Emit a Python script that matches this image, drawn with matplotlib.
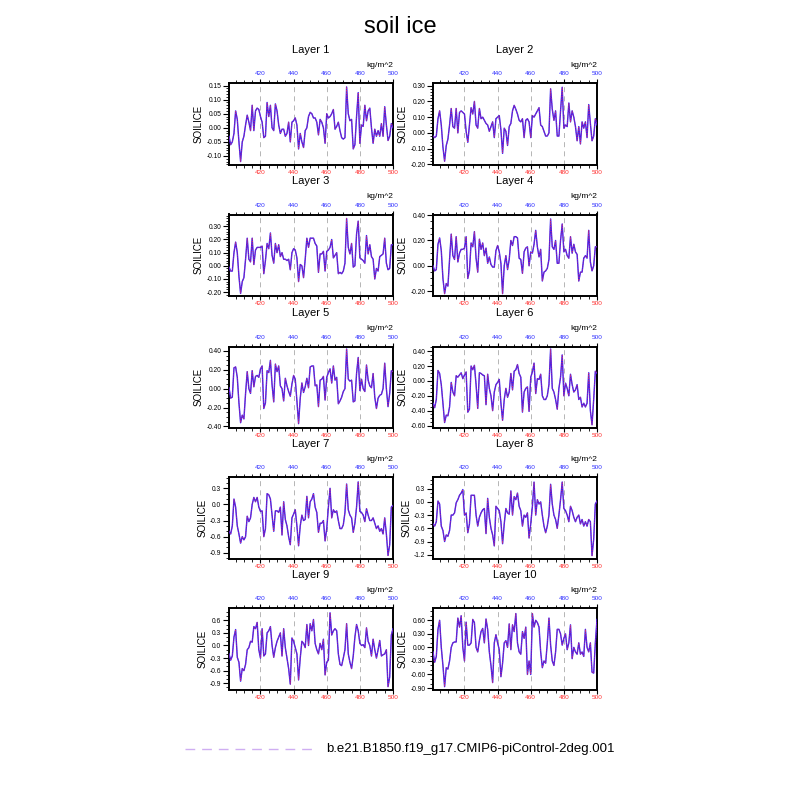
import matplotlib
matplotlib.use("Agg")
import matplotlib.pyplot as plt
import numpy as np
from matplotlib.ticker import MultipleLocator, FixedLocator, FormatStrFormatter

plt.rcParams['font.family'] = ['Liberation Sans', 'DejaVu Sans']

years = np.arange(401, 501)

layer1 = [-0.03, -0.06, -0.05, -0.02, 0.06, 0.03, -0.05, -0.12, -0.05, -0.03,
          0.01, 0.045, 0.02, -0.01, 0.08, -0.01, 0.06, 0.07, 0.065, 0.04,
          0.02, -0.035, -0.03, 0.09, 0.04, 0.08, 0.00, -0.01, 0.085, 0.06,
          0.01, -0.02, -0.005, -0.005, -0.03, -0.02, 0.02, -0.05, 0.02, 0.025,
          0.035, 0.01, -0.075, -0.02, -0.05, -0.07, -0.01, 0.00, 0.04, 0.055,
          0.05, 0.035, 0.035, 0.02, -0.025, 0.03, 0.02, 0.00, -0.055, 0.05,
          0.035, 0.04, 0.05, 0.065, -0.005, 0.005, 0.02, -0.01, -0.035, -0.04,
          -0.035, 0.145, 0.05, 0.025, 0.03, -0.075, -0.06, 0.04, 0.125, -0.055,
          0.01, 0.005, 0.08, 0.025, 0.06, 0.07, 0.00, -0.055, -0.005, -0.03,
          -0.01, -0.03, 0.015, -0.03, 0.075, 0.01, -0.045, -0.03, 0.015, 0.00]

layer2 = [-0.02, -0.03, -0.02, 0.09, 0.14, 0.05, -0.09, -0.18, -0.08, -0.04,
          0.05, 0.155, 0.04, 0.03, 0.155, 0.00, 0.13, 0.14, 0.13, 0.12,
          0.01, -0.06, 0.05, 0.16, 0.12, 0.20, 0.05, 0.03, 0.155, 0.09,
          0.10, 0.08, 0.06, 0.05, 0.01, 0.04, 0.07, -0.03, 0.09, 0.10,
          0.11, 0.02, -0.13, 0.03, 0.01, -0.08, 0.04, 0.06, 0.14, 0.175,
          0.15, 0.12, 0.08, 0.07, 0.09, -0.03, 0.08, 0.09, 0.07, -0.03,
          0.11, 0.10, 0.12, 0.14, 0.16, 0.05, 0.04, 0.01, -0.02, -0.02,
          0.00, 0.28, 0.15, 0.08, 0.14, -0.02, -0.02, 0.14, 0.29, 0.03,
          0.05, 0.04, 0.19, 0.07, 0.14, 0.10, 0.04, -0.05, 0.04, -0.07,
          0.07, 0.03, 0.07, -0.03, 0.18, 0.06, -0.05, -0.02, 0.09, 0.05]

layer3 = [-0.01, -0.04, -0.04, 0.10, 0.18, 0.10, -0.08, -0.21, -0.12, -0.09,
          0.05, 0.21, 0.05, 0.03, 0.21, 0.01, 0.12, 0.14, 0.14, 0.14,
          0.15, -0.06, 0.04, 0.17, 0.13, 0.25, 0.08, 0.02, 0.17, 0.10,
          0.16, 0.07, 0.10, 0.05, 0.05, 0.04, 0.05, -0.03, 0.10, 0.13,
          0.12, 0.06, -0.12, 0.01, 0.00, -0.09, 0.05, 0.21, 0.14, 0.21,
          0.21, 0.21, 0.17, 0.15, -0.05, 0.09, 0.09, 0.11, -0.04, 0.11,
          0.12, 0.14, 0.20, 0.06, 0.08, 0.10, -0.06, -0.05, -0.06, -0.04,
          0.02, 0.36, 0.14, 0.09, 0.17, -0.01, 0.00, 0.24, 0.34, 0.06,
          0.05, 0.04, 0.02, 0.23, 0.09, 0.16, 0.07, 0.05, -0.10, -0.02,
          -0.04, 0.07, 0.08, 0.09, 0.21, 0.02, -0.03, -0.02, 0.16, 0.16]

layer4 = [0.00, -0.04, -0.03, 0.17, 0.22, 0.12, -0.10, -0.22, -0.14, -0.16,
          0.05, 0.25, 0.08, 0.05, 0.23, 0.03, 0.10, 0.13, 0.13, 0.14,
          0.23, -0.10, -0.04, 0.18, 0.15, 0.27, 0.06, -0.05, 0.21, 0.13,
          0.18, 0.08, 0.14, 0.02, 0.07, 0.01, -0.01, -0.01, 0.12, 0.16,
          0.11, 0.02, -0.22, 0.00, 0.08, -0.03, 0.05, 0.20, 0.16, 0.23,
          0.23, 0.22, 0.06, 0.05, -0.06, 0.11, 0.14, 0.15, 0.00, 0.11,
          0.10, 0.17, 0.28, 0.15, 0.07, 0.13, -0.12, -0.05, -0.04, -0.02,
          0.05, 0.37, 0.15, 0.13, 0.20, 0.02, 0.02, 0.20, 0.33, 0.11,
          0.13, 0.08, 0.06, 0.23, 0.10, 0.17, 0.11, 0.09, -0.12, -0.05,
          -0.05, 0.06, 0.08, 0.06, 0.28, 0.03, -0.04, 0.00, 0.15, 0.15]

layer5 = [0.01, -0.10, -0.09, 0.22, 0.23, 0.12, -0.15, -0.36, -0.28, -0.32,
          -0.05, 0.18, 0.00, -0.05, 0.19, 0.02, 0.13, 0.14, 0.12, 0.21,
          0.24, -0.21, -0.15, 0.19, 0.17, 0.30, 0.04, -0.14, 0.26, 0.18,
          0.24, 0.03, 0.00, -0.13, 0.11, 0.03, -0.03, -0.08, 0.05, 0.14,
          0.10, -0.13, -0.37, -0.10, 0.06, -0.04, 0.02, 0.11, 0.01, 0.23,
          0.24, 0.24, 0.03, 0.04, -0.19, 0.09, 0.10, 0.13, -0.12, 0.12,
          0.17, 0.21, 0.06, 0.24, 0.09, 0.12, -0.16, -0.13, -0.09, -0.03,
          0.00, 0.42, 0.10, 0.08, 0.09, -0.14, -0.13, 0.16, 0.33, -0.02,
          0.10, 0.00, -0.03, 0.25, 0.09, 0.03, 0.01, 0.16, -0.09, -0.21,
          -0.10, -0.07, -0.06, 0.00, 0.27, 0.00, -0.19, -0.05, 0.19, 0.18]

layer6 = [-0.30, -0.36, -0.25, 0.14, 0.10, -0.05, -0.30, -0.56, -0.46, -0.47,
          -0.35, -0.02, -0.15, -0.20, 0.07, 0.05, 0.08, 0.11, 0.03, 0.08,
          0.12, -0.42, -0.38, 0.20, 0.15, 0.21, -0.05, -0.37, 0.11, 0.10,
          0.08, 0.07, -0.32, 0.09, -0.10, -0.20, -0.40, -0.15, -0.05, -0.02,
          0.02, -0.30, -0.53, -0.25, -0.10, -0.22, -0.15, 0.10, -0.12, 0.13,
          0.15, 0.22, 0.10, 0.05, -0.42, -0.15, -0.10, -0.08, -0.41, 0.05,
          0.12, 0.24, -0.17, 0.03, 0.02, 0.09, -0.20, -0.25, -0.25, -0.20,
          -0.05, 0.43, -0.10, -0.15, -0.25, -0.38, -0.10, 0.05, 0.35, -0.20,
          -0.03, -0.10, -0.20, 0.09, -0.05, -0.15, -0.12, -0.05, -0.25, -0.22,
          -0.35, -0.30, -0.35, -0.30, 0.11, -0.40, -0.59, -0.25, 0.13, 0.10]

layer7 = [-0.50, -0.55, -0.40, 0.10, -0.05, -0.40, -0.55, -0.72, -0.60, -0.66,
          -0.60, -0.22, -0.32, -0.25, 0.00, 0.13, 0.05, 0.13, -0.05, -0.13,
          -0.12, -0.60, -0.45, 0.20, 0.18, 0.10, -0.20, -0.50, -0.12, -0.12,
          -0.15, -0.05, -0.57, 0.05, -0.28, -0.40, -0.60, -0.75, -0.25, -0.18,
          -0.10, -0.40, -0.77, -0.40, -0.20, -0.30, -0.28, 0.15, -0.25, 0.05,
          0.10, 0.20, -0.05, -0.15, -0.52, -0.35, -0.35, -0.30, -0.68, -0.45,
          -0.05, 0.30, -0.25, -0.10, -0.15, -0.12, -0.30, -0.45, -0.45, -0.38,
          -0.15, 0.38, -0.10, -0.20, -0.25, -0.52, -0.35, -0.05, 0.42, -0.13,
          -0.15, -0.20, -0.32, -0.08, -0.20, -0.30, -0.30, -0.25, -0.35, -0.45,
          -0.40, -0.50, -0.45, -0.55, -0.25, -0.55, -0.95, -0.75, -0.05, -0.02]

layer8 = [-0.50, -0.55, -0.45, 0.02, -0.05, -0.55, -0.65, -0.90, -0.75, -0.78,
          -0.65, -0.30, -0.30, -0.25, -0.02, 0.05, 0.15, 0.20, 0.28, -0.30,
          -0.25, -0.70, -0.50, 0.15, 0.15, 0.15, -0.30, -0.55, -0.35, -0.25,
          -0.18, -0.15, -0.72, 0.08, -0.35, -0.60, -0.75, -1.00, -0.10, -0.15,
          -0.20, -0.45, -0.95, -0.50, -0.15, -0.25, -0.28, 0.25, -0.30, 0.12,
          0.05, 0.20, -0.10, -0.20, -0.55, -0.30, -0.35, -0.25, -0.82, -0.50,
          -0.10, 0.45, -0.30, 0.05, -0.05, 0.00, -0.30, -0.55, -0.70, -0.55,
          -0.30, 0.40, -0.05, -0.30, -0.40, -0.60, -0.30, 0.05, 0.45, -0.15,
          -0.20, -0.30, -0.45, -0.10, -0.20, -0.35, -0.45, -0.35, -0.30, -0.50,
          -0.40, -0.55, -0.45, -0.55, -0.40, -0.45, -1.22, -0.85, -0.05, 0.02]

layer9 = [-0.20, -0.35, -0.25, 0.20, 0.38, -0.28, -0.40, -0.85, -0.55, -0.60,
          -0.45, -0.10, -0.05, 0.10, 0.08, 0.45, 0.40, 0.55, -0.10, -0.30,
          0.40, -0.25, -0.20, 0.30, 0.35, 0.45, 0.00, -0.28, -0.05, 0.10,
          0.20, 0.30, -0.25, 0.40, -0.05, -0.30, -0.55, -0.92, 0.18, 0.10,
          -0.05, -0.20, -0.82, -0.30, 0.10, 0.05, -0.05, 0.50, 0.00, 0.52,
          0.35, 0.62, 0.05, -0.10, -0.20, 0.05, -0.10, 0.15, -0.70, -0.40,
          -0.35, 0.78, 0.25, 0.35, 0.40, 0.35, -0.20, -0.45, -0.48, -0.30,
          -0.10, 0.52, -0.20, -0.40, -0.55, -0.25, 0.20, 0.50, 0.35, 0.05,
          0.00, 0.02, -0.05, 0.42, 0.10, 0.00, -0.25, 0.15, -0.10, -0.30,
          -0.10, 0.12, -0.25, -0.22, -0.20, -0.10, -0.98, -0.75, 0.25, 0.40]

layer10 = [-0.10, -0.33, -0.20, 0.40, 0.60, 0.00, -0.40, -0.87, -0.45, -0.48,
           -0.30, 0.00, 0.10, 0.12, 0.12, 0.65, 0.45, 0.70, 0.00, -0.30,
           0.56, 0.05, 0.05, 0.10, 0.62, 0.55, 0.00, -0.10, 0.15, 0.35,
           0.42, 0.10, 0.63, 0.40, -0.10, -0.40, -0.78, 0.10, 0.28, 0.10,
           -0.05, -0.65, -0.35, 0.10, 0.15, 0.00, 0.52, -0.05, 0.50, 0.35,
           0.75, 0.10, -0.10, -0.15, 0.35, 0.20, 0.45, -0.60, -0.30, -0.60,
           0.75, 0.45, 0.60, 0.55, 0.45, -0.10, -0.45, -0.30, -0.35, 0.10,
           0.65, 0.05, -0.30, -0.40, -0.10, 0.40, 0.40, 0.30, 0.05, 0.20,
           0.30, -0.05, 0.10, 0.50, -0.25, 0.00, -0.10, -0.15, 0.10, -0.15,
           -0.10, -0.20, 0.40, 0.00, -0.10, 0.10, -0.55, -0.57, 0.10, 0.62]

layers = [layer1, layer2, layer3, layer4, layer5,
          layer6, layer7, layer8, layer9, layer10]
titles = ["Layer %d" % (i + 1) for i in range(10)]

# y ranges and ticks
ylims = [(-0.132, 0.158), (-0.204, 0.315), (-0.231, 0.39), (-0.24, 0.405),
         (-0.418, 0.446), (-0.636, 0.463), (-1.01, 0.51), (-1.29, 0.565),
         (-1.06, 0.886), (-0.944, 0.866)]
yticks = [[-0.10, -0.05, 0.00, 0.05, 0.10, 0.15],
          [-0.20, -0.10, 0.00, 0.10, 0.20, 0.30],
          [-0.20, -0.10, 0.00, 0.10, 0.20, 0.30],
          [-0.20, 0.00, 0.20, 0.40],
          [-0.40, -0.20, 0.00, 0.20, 0.40],
          [-0.60, -0.40, -0.20, 0.00, 0.20, 0.40],
          [-0.9, -0.6, -0.3, 0.0, 0.3],
          [-1.2, -0.9, -0.6, -0.3, 0.0, 0.3],
          [-0.9, -0.6, -0.3, 0.0, 0.3, 0.6],
          [-0.90, -0.60, -0.30, 0.00, 0.30, 0.60]]
yfmt = ["%.2f"] * 6 + ["%.1f"] * 3 + ["%.2f"]
yminor = [0.01, 0.02, 0.02, 0.05, 0.05, 0.05, 0.1, 0.1, 0.1, 0.1]

xticks = [420, 440, 460, 480, 500]
legend_label = "b.e21.B1850.f19_g17.CMIP6-piControl-2deg.001"

W = 800.0
fig = plt.figure(figsize=(8, 8), dpi=100)
fig.text(0.5, 1 - 27 / W, "soil ice", ha="center", va="center", fontsize=17)

col_x = [229, 433]
box_w = 164
row_top = [83.3, 214.5, 346.5, 477.0, 608.3]
box_h = 81.7

for i in range(10):
    r, c = i // 2, i % 2
    left = col_x[c] / W
    bottom = 1 - (row_top[r] + box_h) / W
    ax = fig.add_axes([left, bottom, box_w / W, box_h / W])
    v = layers[i]
    ax.plot(years, v, color="#2a1aff", lw=1.0, zorder=3)
    ax.plot(years, v, color="#d03070", lw=0.6, ls=(0, (1, 1)), zorder=4)
    for xv in [420, 440, 460, 480]:
        ax.axvline(xv, color="#aaaaaa", lw=0.6, ls=(0, (6, 5)), zorder=1)
    ax.set_xlim(401, 500)
    ax.set_ylim(*ylims[i])
    ax.yaxis.set_major_locator(FixedLocator(yticks[i]))
    ax.yaxis.set_major_formatter(FormatStrFormatter(yfmt[i]))
    ax.yaxis.set_minor_locator(MultipleLocator(yminor[i]))
    ax.xaxis.set_major_locator(FixedLocator(xticks))
    ax.xaxis.set_minor_locator(MultipleLocator(5))
    ax.tick_params(axis="y", which="major", direction="out", length=4,
                   width=0.8, labelsize=4.8, pad=1.5, right=False)
    ax.tick_params(axis="y", which="minor", direction="out", length=2,
                   width=0.6, right=False)
    ax.tick_params(axis="x", which="major", direction="out", length=3,
                   width=0.8, labelsize=4.6, pad=0.8, colors="black",
                   labelcolor="#ff3030", top=True)
    ax.tick_params(axis="x", which="minor", direction="out", length=2,
                   width=0.6, top=True)
    sec = ax.secondary_xaxis("top")
    sec.xaxis.set_major_locator(FixedLocator(xticks))
    sec.tick_params(axis="x", which="both", length=0, labelsize=4.6,
                    labelcolor="#3030ff", pad=5)
    sec.spines["top"].set_visible(False)
    for s in ax.spines.values():
        s.set_linewidth(1.4)
    ax.set_ylabel("SOILICE", fontsize=7, labelpad=2)
    ax.text(1.0, 1.0 + 17.5 / box_h, "kg/m^2", transform=ax.transAxes,
            ha="right", va="center", fontsize=6)
    ax.text(0.5, 1.0 + 33 / box_h, titles[i], transform=ax.transAxes,
            ha="center", va="center", fontsize=8)

# legend entry at the bottom
lx0, lx1, ly = 185 / W, 314 / W, 1 - 749 / W
fig.add_artist(plt.Line2D([lx0, lx1], [ly, ly], color="#cfaef2", lw=1.0,
                          ls=(0, (7, 5)), transform=fig.transFigure))
fig.text(326 / W, ly, legend_label, ha="left", va="center", fontsize=9.5)

assert all(len(v) == len(years) for v in layers)
fig.savefig("out.png", dpi=100)
